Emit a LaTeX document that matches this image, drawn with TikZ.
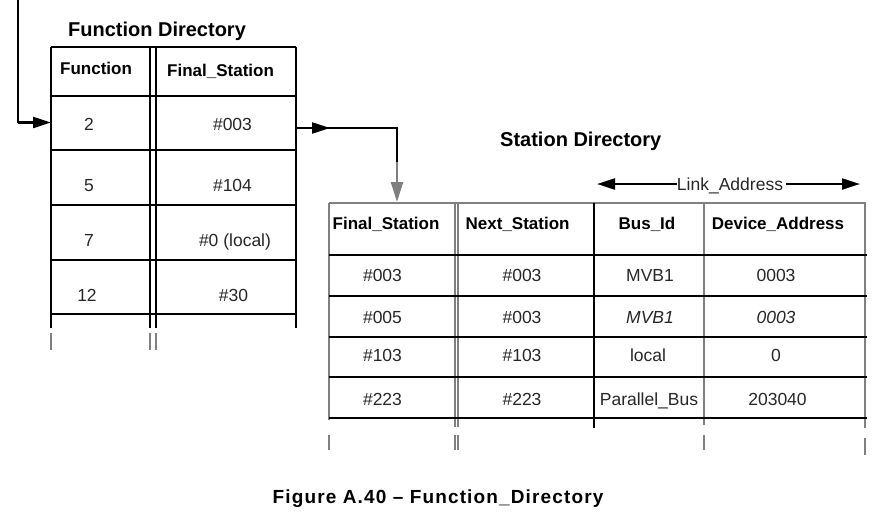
\documentclass[tikz,border=0pt]{standalone}
\usepackage{fontspec}
\setmainfont{Liberation Sans}
\usetikzlibrary{arrows.meta}
\definecolor{lg}{HTML}{808080}
\begin{document}
\begin{tikzpicture}[x=1pt,y=-1pt,
  blk/.style={line width=2.2pt,black},
  gry/.style={line width=2.4pt,lg},
  cell/.style={font=\fontsize{17.5}{20}\selectfont, inner sep=0pt, anchor=base, text=black!85},
  hdr/.style={font=\bfseries\fontsize{17}{20}\selectfont, inner sep=0pt, anchor=base west},
  ttl/.style={font=\bfseries\fontsize{20}{24}\selectfont, inner sep=0pt, anchor=base},
  tipb/.style={-{Triangle[length=18pt,width=11pt]}},
  tipg/.style={-{Triangle[length=20pt,width=12pt]}}
]
\useasboundingbox (0,0) rectangle (889,515);

% ---------- Function Directory ----------
\node[ttl] (fdtitle) at (157,36) {Function Directory};
\draw[blk] (51,47) -- (296,47);
\foreach \x in {51,150,156,296} \draw[blk] (\x,47) -- (\x,328);
\foreach \y in {96,150,205,260,314} \draw[blk] (51,\y) -- (296,\y);
\foreach \x in {51,150,156} \draw[gry] (\x,333) -- (\x,350);

\node[hdr] (fh1) at (60,74) {Function};
\node[hdr] (fh2) at (167,76) {Final\_Station};
\node[cell] (f11) at (89,130) {2};
\node[cell] (f21) at (89,191) {5};
\node[cell] (f31) at (89,246.5) {7};
\node[cell] (f41) at (87,301.5) {12};
\node[cell] (f12) at (232.5,130) {\#003};
\node[cell] (f22) at (232.5,191) {\#104};
\node[cell] (f32) at (235,246.5) {\#0 (local)};
\node[cell] (f42) at (233.5,301.5) {\#30};

% ---------- Station Directory ----------
\node[ttl, anchor=base west] (sdtitle) at (500,146.5) {Station Directory};
\draw[gry] (329,203) -- (866,203);
\draw[gry] (329,203) -- (329,420);
\draw[gry] (455,203) -- (455,427);
\draw[gry] (458,203) -- (458,427);
\draw[gry] (704,203) -- (704,425);
\draw[gry] (865,203) -- (865,428);
\foreach \y in {255,296,337,377,418} \draw[blk] (329,\y) -- (867,\y);
\draw[blk] (594,203) -- (594,428);
\foreach \x in {329,455,458,704} \draw[gry] (\x,435) -- (\x,450);
\draw[gry] (865,438) -- (865,455);

\node[hdr] (sh1) at (332.5,229) {Final\_Station};
\node[hdr] (sh2) at (465.5,229) {Next\_Station};
\node[hdr, anchor=base] (sh3) at (647,229) {Bus\_Id};
\node[hdr, anchor=base] (sh4) at (778,229) {Device\_Address};

\node[cell] (s11) at (382.5,281.5) {\#003};
\node[cell] (s12) at (522,281.5) {\#003};
\node[cell] (s13) at (650,281.5) {MVB1};
\node[cell] (s14) at (776,281.5) {0003};
\node[cell] (s21) at (382.5,323) {\#005};
\node[cell] (s22) at (522,323) {\#003};
\node[cell, font=\itshape\fontsize{17.5}{20}\selectfont] (s23) at (650,323) {MVB1};
\node[cell, font=\itshape\fontsize{17.5}{20}\selectfont] (s24) at (776,323) {0003};
\node[cell] (s31) at (382.5,361.5) {\#103};
\node[cell] (s32) at (522,361.5) {\#103};
\node[cell] (s33) at (648,361.5) {local};
\node[cell] (s34) at (776,361.5) {0};
\node[cell] (s41) at (382.5,405) {\#223};
\node[cell] (s42) at (522,405) {\#223};
\node[cell] (s43) at (649,405) {Parallel\_Bus};
\node[cell] (s44) at (777.5,405) {203040};

% Link_Address
\node[cell] (link) at (730,190) {Link\_Address};
\coordinate (lkL) at (677,184);
\coordinate (lkR) at (786,184);
\coordinate (lkLt) at (597,184);
\coordinate (lkRt) at (860,184);
\draw[blk, -{Triangle[length=18pt,width=11pt]}] (lkL) -- (lkLt);
\draw[blk, -{Triangle[length=18pt,width=11pt]}] (lkR) -- (lkRt);

% ---------- Connectors ----------
\coordinate (inTop) at (18,0);
\coordinate (inBend) at (18,122.5);
\coordinate (inEnd) at (51,122.5);
\draw[blk] (inTop) -- (inBend);
\draw[blk, tipb] (inBend) -- (inEnd);

\coordinate (outStart) at (296,128);
\coordinate (outTip) at (330,128);
\coordinate (outBend) at (397,128);
\coordinate (outDown) at (397,162);
\coordinate (sdIn) at (397,202);
\draw[blk] (outStart) -- (outBend) -- (outDown);
\draw[blk, tipb] (outStart) -- (outTip);
\draw[gry, tipg] (outDown) -- (sdIn);

% ---------- Caption ----------
\node[font=\bfseries\fontsize{19}{22}\selectfont\addfontfeature{LetterSpace=6}, inner sep=0pt, anchor=base west] (cap) at (272.5,503) {Figure A.40 – Function\_Directory};
\end{tikzpicture}
\end{document}
